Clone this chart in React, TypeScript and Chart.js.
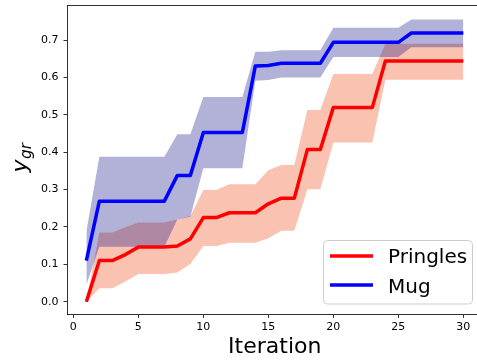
import { useEffect, useRef } from "react";
import { Chart, registerables } from "chart.js";

Chart.register(...registerables);

const iterations = [1, 2, 3, 4, 5, 6, 7, 8, 9, 10, 11, 12, 13, 14, 15, 16, 17, 18, 19, 20, 21, 22, 23, 24, 25, 26, 27, 28, 29, 30];

const pringlesMean = [0.0, 0.11, 0.11, 0.126, 0.146, 0.146, 0.146, 0.149, 0.168, 0.225, 0.225, 0.238, 0.238, 0.238, 0.262, 0.277, 0.277, 0.407, 0.407, 0.52, 0.52, 0.52, 0.52, 0.644, 0.644, 0.644, 0.644, 0.644, 0.644, 0.644];
const pringlesUpper = [0.0, 0.185, 0.185, 0.199, 0.212, 0.212, 0.212, 0.22, 0.229, 0.299, 0.299, 0.314, 0.314, 0.314, 0.352, 0.366, 0.366, 0.513, 0.513, 0.609, 0.609, 0.609, 0.609, 0.69, 0.69, 0.69, 0.69, 0.69, 0.69, 0.69];
const pringlesLower = [0.0, 0.036, 0.036, 0.054, 0.074, 0.074, 0.074, 0.078, 0.101, 0.149, 0.149, 0.158, 0.158, 0.158, 0.17, 0.19, 0.19, 0.301, 0.301, 0.426, 0.426, 0.426, 0.426, 0.594, 0.594, 0.594, 0.594, 0.594, 0.594, 0.594];

const mugMean = [0.11, 0.269, 0.269, 0.269, 0.269, 0.269, 0.269, 0.338, 0.338, 0.453, 0.453, 0.453, 0.453, 0.631, 0.632, 0.638, 0.638, 0.638, 0.638, 0.694, 0.694, 0.694, 0.694, 0.694, 0.694, 0.719, 0.719, 0.719, 0.719, 0.719];
const mugUpper = [0.187, 0.388, 0.388, 0.388, 0.388, 0.388, 0.388, 0.448, 0.448, 0.548, 0.548, 0.548, 0.548, 0.669, 0.669, 0.673, 0.673, 0.673, 0.673, 0.733, 0.733, 0.733, 0.733, 0.733, 0.733, 0.755, 0.755, 0.755, 0.755, 0.755];
const mugLower = [0.045, 0.147, 0.147, 0.147, 0.147, 0.147, 0.147, 0.22, 0.227, 0.357, 0.357, 0.357, 0.357, 0.591, 0.593, 0.6, 0.6, 0.6, 0.6, 0.655, 0.655, 0.655, 0.655, 0.655, 0.655, 0.681, 0.681, 0.681, 0.681, 0.681];

const seriesNames = ["Pringles", "Mug"];
const xTicks = [0, 5, 10, 15, 20, 25, 30];
const yTicks = [0.0, 0.1, 0.2, 0.3, 0.4, 0.5, 0.6, 0.7];
const xTitle = "Iteration";

const RED = "#ff0000";
const BLUE = "#0000ff";
const RED_FILL = "rgba(245,120,80,0.45)";
const BLUE_FILL = "rgba(0,0,128,0.3)";
const SPINE = "rgba(0,0,0,0.8)";
const FONT = "'DejaVu Sans', sans-serif";

const pts = (ys: number[]) => iterations.map((x, i) => ({ x, y: ys[i] }));

const decorPlugin = {
  id: "decor",
  afterDraw(chart: any) {
    const ctx = chart.ctx as CanvasRenderingContext2D;
    const a = chart.chartArea;
    ctx.save();
    // top spine
    ctx.strokeStyle = SPINE;
    ctx.lineWidth = 1;
    ctx.beginPath();
    ctx.moveTo(a.left, Math.round(a.top) + 0.5);
    ctx.lineTo(a.right, Math.round(a.top) + 0.5);
    ctx.stroke();

    // x title
    ctx.fillStyle = "#000";
    ctx.font = `22px ${FONT}`;
    ctx.textAlign = "center";
    ctx.textBaseline = "alphabetic";
    ctx.fillText(xTitle, (a.left + 482) / 2, 353);

    // y title: y_{gr}
    ctx.save();
    ctx.translate(27, 158);
    ctx.rotate(-Math.PI / 2);
    ctx.textAlign = "left";
    ctx.font = `italic 22px ${FONT}`;
    const yW = ctx.measureText("y").width;
    ctx.font = `italic 15.4px ${FONT}`;
    const gW = ctx.measureText("gr").width;
    const start = -(yW + gW) / 2;
    ctx.font = `italic 22px ${FONT}`;
    ctx.fillText("y", start, 0);
    ctx.font = `italic 15.4px ${FONT}`;
    ctx.fillText("gr", start + yW + 0.5, 4);
    ctx.restore();

    // legend
    const lx = 323.5, ly = 240.5, lw = 149, lh = 63.5;
    ctx.beginPath();
    ctx.roundRect(lx, ly, lw, lh, 4);
    ctx.fillStyle = "rgba(255,255,255,0.8)";
    ctx.fill();
    ctx.strokeStyle = "#cccccc";
    ctx.lineWidth = 1;
    ctx.stroke();
    const colors = [RED, BLUE];
    const rows = [256, 285];
    const bases = [263, 292.5];
    seriesNames.forEach((name, i) => {
      ctx.strokeStyle = colors[i];
      ctx.lineWidth = 3.5;
      ctx.lineCap = "butt";
      ctx.beginPath();
      ctx.moveTo(330, rows[i]);
      ctx.lineTo(373, rows[i]);
      ctx.stroke();
      ctx.fillStyle = "#000";
      ctx.font = `20px ${FONT}`;
      ctx.textAlign = "left";
      ctx.textBaseline = "alphabetic";
      ctx.fillText(name, 388, bases[i]);
    });
    ctx.restore();
  },
};

export default function App() {
  const ref = useRef<HTMLCanvasElement | null>(null);
  useEffect(() => {
    if (!ref.current) return;
    const band = { pointRadius: 0, borderWidth: 0, borderColor: "transparent", tension: 0 };
    const line = { pointRadius: 0, borderWidth: 3.5, tension: 0, borderJoinStyle: "round" as const, fill: false };
    const chart = new Chart(ref.current, {
      type: "line",
      data: {
        datasets: [
          { ...band, label: "pu", data: pts(pringlesUpper), fill: "+1", backgroundColor: RED_FILL, order: 6 },
          { ...band, label: "pl", data: pts(pringlesLower), fill: false, order: 6 },
          { ...band, label: "mu", data: pts(mugUpper), fill: "+1", backgroundColor: BLUE_FILL, order: 5 },
          { ...band, label: "ml", data: pts(mugLower), fill: false, order: 5 },
          { ...line, label: seriesNames[0], data: pts(pringlesMean), borderColor: RED, order: 2 },
          { ...line, label: seriesNames[1], data: pts(mugMean), borderColor: BLUE, order: 1 },
        ],
      },
      options: {
        animation: false,
        responsive: false,
        devicePixelRatio: 1,
        events: [],
        layout: { padding: { top: 5, right: 0, left: 0, bottom: 0 } },
        plugins: { legend: { display: false }, tooltip: { enabled: false }, title: { display: false } },
        scales: {
          x: {
            type: "linear",
            min: -0.45,
            max: 31.05,
            afterBuildTicks: (s: any) => { s.ticks = xTicks.map((v) => ({ value: v })); },
            afterFit: (s: any) => { s.height = 47; s.paddingLeft = 0; s.paddingRight = 0; s.paddingTop = 0; s.paddingBottom = 0; },
            grid: { drawOnChartArea: false, drawTicks: true, tickLength: 4, tickColor: SPINE, tickWidth: 1 },
            border: { display: true, color: SPINE, width: 1 },
            ticks: { font: { family: FONT, size: 11 }, color: "#000", padding: 3, maxRotation: 0, autoSkip: false, callback: (v: any) => String(v) },
          },
          y: {
            type: "linear",
            min: -0.033,
            max: 0.794,
            afterBuildTicks: (s: any) => { s.ticks = yTicks.map((v) => ({ value: v })); },
            afterFit: (s: any) => { s.width = 67.5; s.paddingLeft = 0; s.paddingRight = 0; s.paddingTop = 0; s.paddingBottom = 0; },
            grid: { drawOnChartArea: false, drawTicks: true, tickLength: 4, tickColor: SPINE, tickWidth: 1 },
            border: { display: true, color: SPINE, width: 1 },
            ticks: { font: { family: FONT, size: 11 }, color: "#000", padding: 5, autoSkip: false, callback: (v: any) => Number(v).toFixed(1) },
          },
        },
      },
      plugins: [decorPlugin],
    });
    return () => chart.destroy();
  }, []);
  return (
    <div style={{ position: "fixed", left: 0, top: 0, width: 477, height: 361, background: "#fff" }}>
      <canvas ref={ref} width={477} height={361} style={{ display: "block" }} />
    </div>
  );
}
